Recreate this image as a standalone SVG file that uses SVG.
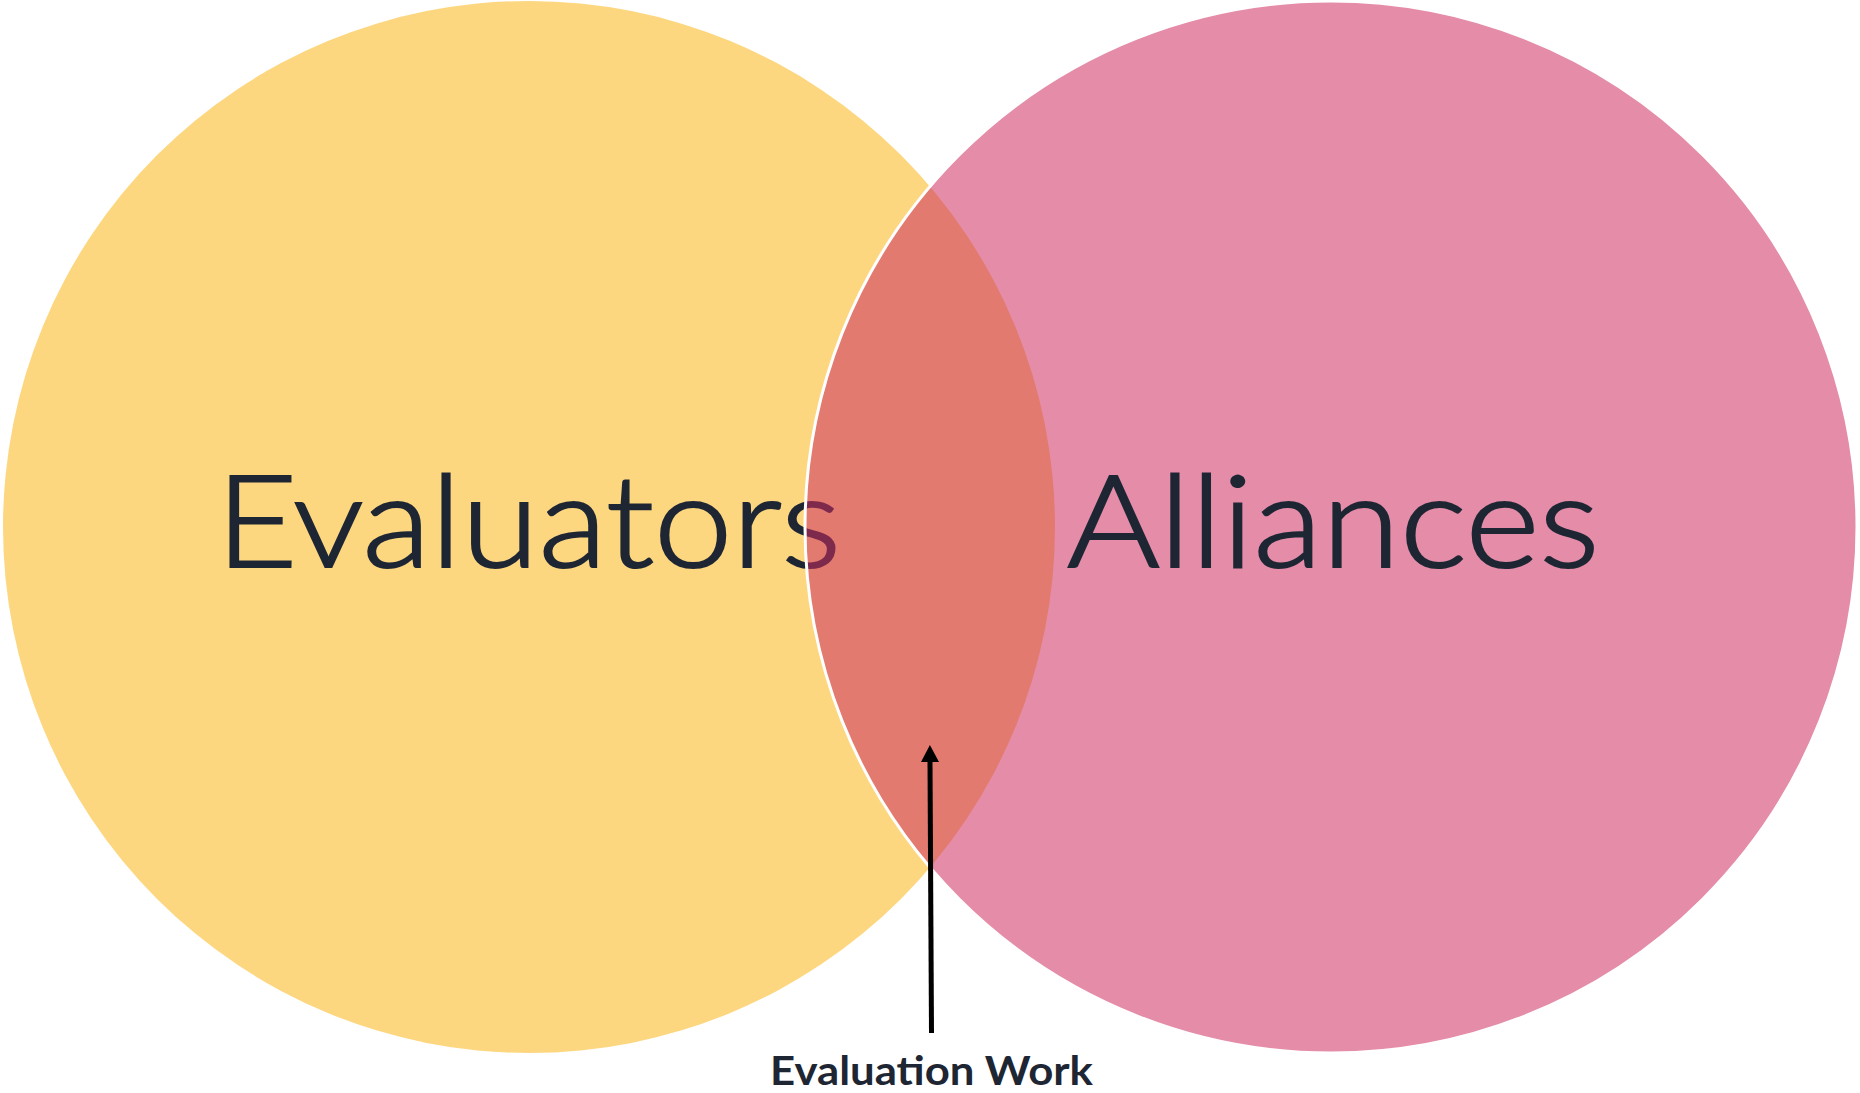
<svg xmlns="http://www.w3.org/2000/svg" width="1860" height="1093" viewBox="0 0 1860 1093">
  <defs>
    <style>
      .big { font-family: "Lato", "Open Sans", "Liberation Sans", sans-serif; font-size: 128px; font-weight: 300; fill: #1E2633; stroke: #1E2633; stroke-width: 2.2px; }
      .lbl { font-family: "Lato", "Open Sans", "Liberation Sans", sans-serif; font-size: 41px; font-weight: bold; fill: #1E2633; }
      .conn { stroke: #000000; stroke-width: 5; fill: none; }
    </style>
    <marker id="arrow" markerUnits="userSpaceOnUse" markerWidth="18" markerHeight="18" refX="0" refY="9" orient="auto" viewBox="0 0 18 18">
      <path d="M0,0 L17,9 L0,18 Z" fill="#000000"/>
    </marker>
  </defs>
  <rect width="1860" height="1093" fill="#FFFFFF"/>
  <g id="evaluators">
    <circle cx="529" cy="527" r="526" fill="#FDD780"/>
    <text class="big" x="216" y="567" textLength="625" lengthAdjust="spacingAndGlyphs">Evaluators</text>
  </g>
  <g id="alliances">
    <circle cx="1331" cy="527" r="526" fill="#CE2E61" fill-opacity="0.55" stroke="#FFFFFF" stroke-width="3"/>
    <text class="big" x="1067" y="567" textLength="532.5" lengthAdjust="spacingAndGlyphs">Alliances</text>
  </g>
  <g id="connectors">
    <line class="conn" x1="931.5" y1="1033" x2="930" y2="762" marker-end="url(#arrow)"/>
  </g>
  <g id="evaluation-work">
    <text class="lbl" x="770" y="1085" textLength="323" lengthAdjust="spacingAndGlyphs">Evaluation Work</text>
  </g>
</svg>
